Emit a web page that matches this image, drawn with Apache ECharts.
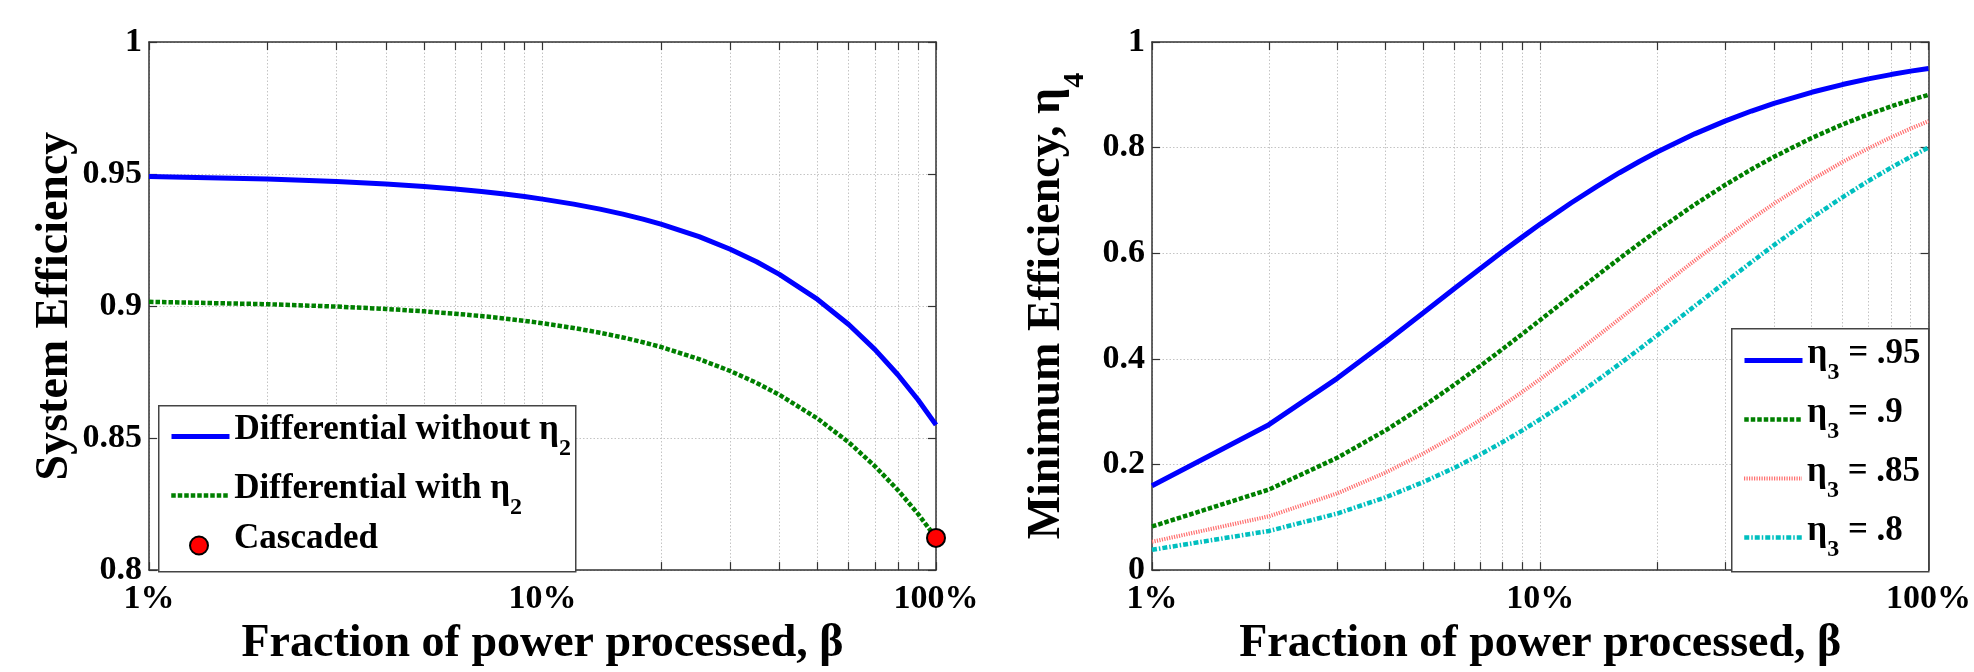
<!DOCTYPE html>
<html><head><meta charset="utf-8">
<script src="https://cdn.jsdelivr.net/npm/echarts@6/dist/echarts.min.js"></script>
<style>html,body{margin:0;padding:0;background:#fff}#c{width:1974px;height:672px}</style>
</head><body><div id="c"></div>
<script>
// ---- data (x in percent of power processed) ----
const xPct = [1,2,3,4,5,6,7,8,9,10,12,14,16,18,20,25,30,35,40,50,60,70,80,90,100];
// left panel: system efficiency
const diffWithout = [0.9491,0.9481,0.9472,0.9462,0.9453,0.9443,0.9434,0.9424,0.9415,0.9405,0.9386,0.9367,0.9348,0.9329,0.9310,0.9263,0.9215,0.9168,0.9120,0.9025,0.8930,0.8835,0.8740,0.8645,0.8550];
const diffWith    = [0.9016,0.9007,0.8998,0.8989,0.8980,0.8971,0.8962,0.8953,0.8944,0.8935,0.8917,0.8899,0.8881,0.8863,0.8845,0.8799,0.8754,0.8709,0.8664,0.8574,0.8484,0.8393,0.8303,0.8213,0.8122];
const cascadedX = [100];
const cascadedY = [0.8122];
// right panel: minimum efficiency eta4
const eta95 = [0.1597,0.2754,0.3631,0.4318,0.4872,0.5327,0.5708,0.6032,0.6310,0.6552,0.6951,0.7268,0.7525,0.7738,0.7917,0.8261,0.8507,0.8693,0.8837,0.9048,0.9194,0.9301,0.9383,0.9448,0.9500];
const eta90 = [0.0826,0.1525,0.2126,0.2647,0.3103,0.3506,0.3865,0.4186,0.4475,0.4737,0.5192,0.5575,0.5902,0.6183,0.6429,0.6923,0.7297,0.7590,0.7826,0.8182,0.8438,0.8630,0.8780,0.8901,0.9000];
const eta85 = [0.0536,0.1018,0.1453,0.1848,0.2208,0.2537,0.2840,0.3119,0.3377,0.3617,0.4048,0.4424,0.4755,0.5050,0.5313,0.5862,0.6296,0.6648,0.6939,0.7391,0.7727,0.7987,0.8193,0.8361,0.8500];
const eta80 = [0.0385,0.0741,0.1071,0.1379,0.1667,0.1935,0.2188,0.2424,0.2647,0.2857,0.3243,0.3590,0.3902,0.4186,0.4444,0.5000,0.5455,0.5833,0.6154,0.6667,0.7059,0.7368,0.7619,0.7826,0.8000];
// names / labels
const leftNames = ['Differential without η2','Differential with η2','Cascaded'];
const rightNames = ['η3 = .95','η3 = .9','η3 = .85','η3 = .8'];
const xTitle = 'Fraction of power processed, β';
const leftYTitle = 'System Efficiency';
const rightYTitle = '{a|Minimum Efficiency, η}{s|4}';

const FONT = 'Liberation Serif';
const AX = '#333';
const pairs = ys => xPct.map((x,i)=>[x, ys[i]]);
const gridLine = {show:true, lineStyle:{color:'#c4c4c4', type:[1.5,2], width:1}};
const txt = (size) => ({fontFamily:FONT, fontWeight:'bold', fontSize:size, color:'#000'});

const titleRich = {
  a: Object.assign(txt(46), {height:46, lineHeight:46, verticalAlign:'top'}),
  s: Object.assign(txt(30), {height:30, lineHeight:66, verticalAlign:'bottom'})
};
const legendRich = {
  a: Object.assign(txt(35), {height:35, lineHeight:35, verticalAlign:'top'}),
  s: Object.assign(txt(24), {height:24, lineHeight:49, verticalAlign:'bottom'}),
  p: Object.assign(txt(35), {width:21, height:35, lineHeight:35, verticalAlign:'top'})
};

function mkX(gi, pos, main){
  return {
    type:'log', logBase:10, gridIndex:gi, position:pos, min:1, max:100,
    axisLine:{show:true, onZero:false, lineStyle:{color:AX, width:1.5}},
    axisTick:{show:true, inside:true, length:8, lineStyle:{color:AX, width:1.2}},
    minorTick:{show:true, splitNumber:9, length:8, lineStyle:{color:AX, width:1.2}},
    splitLine: main ? gridLine : {show:false},
    minorSplitLine: main ? gridLine : {show:false},
    axisLabel: main ? Object.assign({show:true, formatter: v => v + '%', margin:12}, txt(34)) : {show:false},
    name: main ? xTitle : '', nameLocation:'middle', nameGap:44,
    nameTextStyle: txt(46)
  };
}
function mkY(gi, pos, main, min, max, interval, name, gap){
  return {
    type:'value', gridIndex:gi, position:pos, min:min, max:max, interval:interval,
    axisLine:{show:true, onZero:false, lineStyle:{color:AX, width:1.5}},
    axisTick:{show:true, inside:true, length:8, lineStyle:{color:AX, width:1.2}},
    splitLine: main ? gridLine : {show:false},
    axisLabel: main ? Object.assign({show:true, margin:7}, txt(34)) : {show:false},
    name: main ? name : '', nameLocation:'middle', nameRotate:90, nameGap:gap,
    nameTextStyle: Object.assign(txt(46), {rich:titleRich})
  };
}
function subFmt(name){
  const m = name.match(/^(.*η)(\d)(.*)$/);
  if(!m) return '{p| }{a|' + name + '}{s| }';
  return '{a|' + m[1] + '}{s|' + m[2] + '}' + (m[3] ? '{a|' + m[3] + '}' : '');
}
const hideSym = {color:'rgba(0,0,0,0)', borderWidth:0, opacity:0};
// one legend component per row so every row sits where it does in the figure
function legendRow(name, iconLeft, rowCenter, isLine){
  return {
    data: [isLine ? {name:name, itemStyle:hideSym} : {name:name}],
    orient:'vertical', left: isLine ? iconLeft : iconLeft + 20, top:rowCenter - 25,
    itemWidth: isLine ? 58 : 18, itemHeight:18, itemGap:0,
    padding:0, selectedMode:false, z:6,
    lineStyle:{width:'inherit'},
    formatter: subFmt, textStyle: Object.assign(txt(35), {rich:legendRich})
  };
}
function lineSeries(name, xi, yi, ys, color, type, width){
  return {type:'line', name:name, xAxisIndex:xi, yAxisIndex:yi, data:pairs(ys), symbol:'none', showSymbol:false,
    lineStyle:{color:color, width:width, type:type}, itemStyle:{color:color}, z:3};
}
const leftRows = [437, 496, 546];
const rightRows = [361, 420, 479, 538];

const option = {
  backgroundColor:'#fff',
  animation:false,
  grid:[
    {left:149, top:42, width:787, height:538},
    {left:1152, top:42, width:784, height:538}
  ],
  xAxis:[ mkX(0,'bottom',true), mkX(0,'top',false), mkX(1,'bottom',true), mkX(1,'top',false) ],
  yAxis:[
    mkY(0,'left',true,0.8,1,0.05,leftYTitle,70),
    mkY(0,'right',false,0.8,1,0.05,'',0),
    mkY(1,'left',true,0,1,0.2,rightYTitle,62),
    mkY(1,'right',false,0,1,0.2,'',0)
  ],
  graphic:[
    {type:'rect', left:158, top:405, z:5, shape:{width:417, height:166}, style:{fill:'#fff', stroke:'#444', lineWidth:1.5}},
    {type:'rect', left:1731, top:328, z:5, shape:{width:197, height:243}, style:{fill:'#fff', stroke:'#444', lineWidth:1.5}}
  ],
  legend: leftNames.map((n,i) => legendRow(n, 169, leftRows[i], i < 2))
    .concat(rightNames.map((n,i) => legendRow(n, 1742, rightRows[i], true))),
  series:[
    lineSeries(leftNames[0],0,0,diffWithout,'#0000ff','solid',5),
    lineSeries(leftNames[1],0,0,diffWith,'#008000',[4.5,2],4.5),
    {type:'scatter', name:leftNames[2], xAxisIndex:0, yAxisIndex:0, data:cascadedX.map((x,i)=>[x,cascadedY[i]]),
      symbol:'circle', symbolSize:18, clip:false, z:10,
      itemStyle:{color:'#ff0000', borderColor:'#000', borderWidth:2, opacity:1}},
    lineSeries(rightNames[0],2,2,eta95,'#0000ff','solid',5),
    lineSeries(rightNames[1],2,2,eta90,'#008000',[4.5,2],4.5),
    lineSeries(rightNames[2],2,2,eta85,'#ff7070',[1.2,1.3],4),
    lineSeries(rightNames[3],2,2,eta80,'#00bfbf',[5,2,1.5,2],4.5)
  ]
};
const chart = echarts.init(document.getElementById('c'));
chart.setOption(option);
</script></body></html>
